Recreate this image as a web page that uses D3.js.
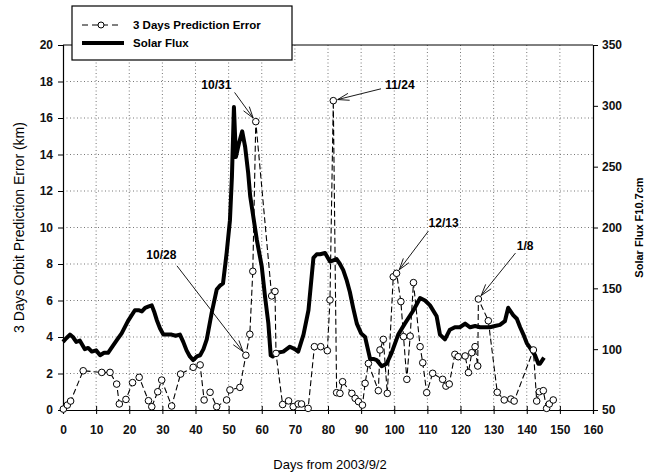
<!DOCTYPE html>
<html><head><meta charset="utf-8">
<script src="https://cdn.jsdelivr.net/npm/d3@7"></script>
<style>body{margin:0;background:#fff}svg{display:block;font-family:"Liberation Sans",Arial,sans-serif}</style>
</head><body><svg id="c" width="659" height="476"></svg>
<script>
// ---- data ----
const errDays = [0.1,1.3,2.3,6.1,11.7,14.2,16.2,17.0,19.0,21.0,23.0,25.8,26.8,28.6,29.8,32.8,35.5,39.3,41.4,42.6,44.4,46.4,49.4,50.4,53.4,55.2,56.4,57.3,58.2,63,64,64.3,66.3,68.1,69.5,71,72,74,75.9,77.8,79.8,80.6,81.6,82.6,83.6,84.4,87.2,88.2,89.2,90.4,91.2,92.2,95.2,95.7,96.7,97.9,99.7,100.7,102,102.8,103.8,104.8,105.8,107.8,108.6,109.8,111.6,114.6,115.6,116.6,118.3,119.3,121.4,122.4,123.4,124.4,125.2,125.4,128.4,131.1,133.2,135.2,136.2,142,143,143.8,145,146,146.8,148];
const errValues = [0.05,0.27,0.49,2.15,2.06,2.06,1.42,0.33,0.58,1.5,1.79,0.51,0.18,1.0,1.64,0.22,1.97,2.34,2.47,0.55,0.97,0.18,0.55,1.1,1.24,3.0,4.15,7.6,15.8,6.25,6.5,3.1,0.3,0.5,0.18,0.33,0.33,0.09,3.47,3.47,3.25,6.03,16.95,0.95,0.91,1.55,0.91,0.64,0.46,0.27,1.46,2.55,1.06,3.29,3.87,0.91,7.3,7.49,5.94,4.02,1.68,4.05,6.98,3.47,2.59,0.95,2.01,1.68,1.31,1.42,3.05,2.92,2.96,2.05,3.14,3.47,2.41,6.08,4.89,0.97,0.55,0.6,0.49,3.29,0.49,1.0,1.06,0.09,0.33,0.55];
const fluxDays = [0,1,2.1,3,4,5.1,6.6,7.6,8.7,10,11.2,12.4,13.6,15.1,16.4,17.7,19.6,21.7,22.8,23.8,24.8,25.7,26.8,27.5,28.3,29.3,30.3,31.5,32.8,34,35.3,36.3,37.3,38.3,39.3,40.4,41.4,42.4,43.4,44.9,46.4,47.3,48.3,49.4,50.4,51.0,51.6,52.2,53.1,54.1,55.0,55.9,56.5,57.5,58.5,60,61,62,62.7,63.3,64.5,66.5,68.5,70,71,72.6,74.1,75.6,76.6,77.6,79.1,80.6,81.6,82.6,83.6,84.6,85.6,86.6,87.6,88.7,90,91.2,92.7,93.7,94.7,96.2,97.7,99.2,101.2,103.2,105.8,107.8,109.3,110.8,112.8,113.8,115.3,116.8,118.3,119.8,121.4,122.9,124.4,125.9,127.4,128.9,130.4,131.9,133.4,134.4,135.9,137,138,139,140,141.5,142.5,143.5,144,145.2];
const fluxValues = [106,109,112,110,106,107,100,101,98,99,95,97,97,103,108,113,123,132,132,131,134,135,136,131,124,117,112,112,112,111,112,106,99,94,91,94,95,100,108,130,149,152,154,179,206,242,299,258,269,279,266,245,226,208,190,168,143,121,95,94,97,98,102,100,98,112,132,175,178,178,179,172,173,174,170,165,157,147,134,121,113,110,92,92,91,86,88,97,112,121,132,142,140,136,127,112,108,116,118,118,121,118,119,118,118,118,119,120,123,134,128,125,118,112,105,99,95,88,88,93];
const xTicks = [0,10,20,30,40,50,60,70,80,90,100,110,120,130,140,150,160];
const yLeftTicks = [0,2,4,6,8,10,12,14,16,18,20];
const yRightTicks = [50,100,150,200,250,300,350];
// annotations: label, text position (day, km), arrow start (day, km), target point (day, km)
const annLabels = ["10/31","11/24","10/28","12/13","1/8"];
const annText = [[46.3,17.8],[101.7,17.8],[29.7,8.5],[114.9,10.25],[139.5,9.0]];
const annFrom = [[51.8,17.4],[96.0,17.6],[34.4,7.9],[110.3,9.8],[136.6,8.6]];
const annTo = [[58.2,15.8],[81.6,16.95],[55.2,3.0],[100.7,7.49],[125.4,6.08]];

// ---- layout ----
const L = 63, R = 593, T = 45, B = 410;
const svg = d3.select("#c");
const x = d3.scaleLinear().domain([0,160]).range([L,R]);
const yL = d3.scaleLinear().domain([0,20]).range([B,T]);
const yR = d3.scaleLinear().domain([50,350]).range([B,T]);

// grid
const grid = svg.append("g").attr("stroke","#777").attr("stroke-width",1).attr("stroke-dasharray","1,2.5");
grid.selectAll("line.v").data(xTicks.filter(d=>d>0&&d<160)).join("line")
  .attr("x1",d=>x(d)).attr("x2",d=>x(d)).attr("y1",T).attr("y2",B);
grid.selectAll("line.h").data(yLeftTicks.filter(d=>d>0&&d<20)).join("line")
  .attr("y1",d=>yL(d)).attr("y2",d=>yL(d)).attr("x1",L).attr("x2",R);

// frame top
svg.append("line").attr("x1",L).attr("x2",R).attr("y1",T).attr("y2",T).attr("stroke","#000");

// axes
const fs = "12px";
const gx = svg.append("g").attr("transform",`translate(0,${B})`)
  .call(d3.axisBottom(x).tickValues(xTicks).tickSize(4).tickPadding(11));
gx.selectAll(".tick line").attr("y1",-4);
const gl = svg.append("g").attr("transform",`translate(${L},0)`)
  .call(d3.axisLeft(yL).tickValues(yLeftTicks).tickSize(5).tickPadding(5));
const gr = svg.append("g").attr("transform",`translate(${R},0)`)
  .call(d3.axisRight(yR).tickValues(yRightTicks).tickSize(5).tickPadding(4));
[gx,gl,gr].forEach(g=>{
  g.select(".domain").attr("stroke","#000").attr("stroke-width",1.2);
  g.selectAll(".tick line").attr("stroke","#000");
  g.selectAll("text").attr("font-size",fs).attr("font-weight","bold").attr("fill","#111")
   .attr("font-family","Liberation Sans, Arial, sans-serif");
});

// titles
svg.append("text").attr("x",330).attr("y",469).attr("text-anchor","middle")
  .attr("font-size","13px").text("Days from 2003/9/2");
svg.append("text").attr("transform",`translate(24,${(T+B)/2}) rotate(-90)`).attr("text-anchor","middle")
  .attr("font-size","14px").text("3 Days Orbit Prediction Error (km)");
svg.append("text").attr("transform",`translate(643,${(T+B)/2}) rotate(-90)`).attr("text-anchor","middle")
  .attr("font-size","11px").attr("font-weight","bold").text("Solar Flux F10.7cm");

// solar flux line
const flux = fluxDays.map((d,i)=>[d,fluxValues[i]]);
svg.append("path").datum(flux).attr("fill","none").attr("stroke","#000").attr("stroke-width",4)
  .attr("stroke-linejoin","round")
  .attr("d",d3.line().x(d=>x(d[0])).y(d=>yR(d[1])));

// error line
const err = errDays.map((d,i)=>[d,errValues[i]]);
svg.append("path").datum(err).attr("fill","none").attr("stroke","#000").attr("stroke-width",1.1)
  .attr("stroke-dasharray","6,3")
  .attr("d",d3.line().x(d=>x(d[0])).y(d=>yL(d[1])));
svg.append("g").selectAll("circle").data(err).join("circle")
  .attr("cx",d=>x(d[0])).attr("cy",d=>yL(d[1])).attr("r",3.3)
  .attr("fill","#fff").attr("stroke","#000").attr("stroke-width",1);

// annotations
const ag = svg.append("g");
annLabels.forEach((lab,i)=>{
  const tx=x(annText[i][0]), ty=yL(annText[i][1]);
  ag.append("text").attr("x",tx).attr("y",ty+4).attr("text-anchor","middle")
    .attr("font-size","12px").attr("font-weight","bold").text(lab);
  const x1=x(annFrom[i][0]), y1=yL(annFrom[i][1]);
  let x2=x(annTo[i][0]), y2=yL(annTo[i][1]);
  const dx=x2-x1, dy=y2-y1, len=Math.hypot(dx,dy), ux=dx/len, uy=dy/len;
  x2-=ux*4.5; y2-=uy*4.5;
  ag.append("line").attr("x1",x1).attr("y1",y1).attr("x2",x2).attr("y2",y2).attr("stroke","#000").attr("stroke-width",0.9);
  const ah=12, aw=0.3;
  [aw,-aw].forEach(a=>{
    const c=Math.cos(a), s=Math.sin(a);
    const vx=-(ux*c - uy*s), vy=-(ux*s + uy*c);
    ag.append("line").attr("x1",x2).attr("y1",y2).attr("x2",x2+vx*ah).attr("y2",y2+vy*ah)
      .attr("stroke","#000").attr("stroke-width",0.9);
  });
});

// legend
const lg = svg.append("g");
lg.append("rect").attr("x",72).attr("y",6).attr("width",220).attr("height",54)
  .attr("fill","#fff").attr("stroke","#000").attr("stroke-width",1.2);
lg.append("line").attr("x1",82).attr("x2",122).attr("y1",25).attr("y2",25)
  .attr("stroke","#000").attr("stroke-dasharray","6,4");
lg.append("circle").attr("cx",101).attr("cy",25).attr("r",3).attr("fill","#fff").attr("stroke","#000");
lg.append("text").attr("x",133).attr("y",29).attr("font-size","11.5px").attr("font-weight","bold").text("3 Days Prediction Error");
lg.append("line").attr("x1",82).attr("x2",124).attr("y1",43).attr("y2",43).attr("stroke","#000").attr("stroke-width",4);
lg.append("text").attr("x",133).attr("y",47).attr("font-size","11.5px").attr("font-weight","bold").text("Solar Flux");
</script></body></html>
